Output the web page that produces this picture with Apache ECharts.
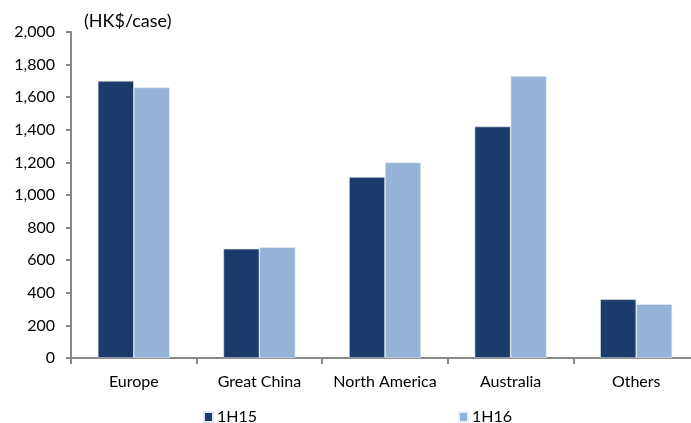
<!DOCTYPE html>
<html>
<head>
<meta charset="utf-8">
<script src="https://cdn.jsdelivr.net/npm/echarts@6/dist/echarts.min.js"></script>
<style>
  html, body { margin: 0; padding: 0; background: #fff; }
  #chart { width: 691px; height: 423px; }
</style>
</head>
<body>
<div id="chart"></div>
<script>
// Average selling price per case, by region
const regions = ['Europe', 'Great China', 'North America', 'Australia', 'Others'];
const seriesNames = ['1H15', '1H16'];
const values1H15 = [1700, 670, 1110, 1420, 360];
const values1H16 = [1660, 680, 1200, 1730, 330];
const unitLabel = '(HK$/case)';

const FONT = 'Lato, "Open Sans", sans-serif';
const AXIS_GREY = '#888888';
const DARK = '#1b3c6a';
const LIGHT = '#95b3d7';

const chart = echarts.init(document.getElementById('chart'));
chart.setOption({
  animation: false,
  textStyle: { fontFamily: FONT },
  title: {
    text: unitLabel,
    left: 79, top: 7,
    textStyle: { fontFamily: FONT, fontSize: 18, fontWeight: 'normal', color: '#000' }
  },
  legend: [
    {
      data: [seriesNames[0]], left: 198, top: 404,
      itemWidth: 9, itemHeight: 10, icon: 'rect',
      textStyle: { fontFamily: FONT, fontSize: 16, color: '#000', padding: [0, 0, 0, -1] }
    },
    {
      data: [seriesNames[1]], left: 453, top: 404,
      itemWidth: 9, itemHeight: 10, icon: 'rect',
      textStyle: { fontFamily: FONT, fontSize: 16, color: '#000', padding: [0, 0, 0, -1] }
    }
  ],
  // The last category band runs slightly past the right edge of the canvas
  grid: { left: 71, top: 32, width: 628, height: 326, containLabel: false, outerBoundsMode: 'none' },
  xAxis: {
    type: 'category',
    data: regions,
    axisLine: { lineStyle: { color: AXIS_GREY, width: 2 } },
    axisTick: { show: true, length: 6, lineStyle: { color: AXIS_GREY, width: 2 } },
    axisLabel: { interval: 0, fontFamily: FONT, fontSize: 16, color: '#000', margin: 16 },
    splitLine: { show: false }
  },
  yAxis: {
    type: 'value',
    min: 0, max: 2000, interval: 200,
    axisLine: { show: true, lineStyle: { color: AXIS_GREY, width: 2 } },
    axisTick: { show: true, length: 5, lineStyle: { color: AXIS_GREY, width: 2 } },
    axisLabel: {
      fontFamily: FONT, fontSize: 16, color: '#000', margin: 16,
      formatter: v => v.toLocaleString('en-US')
    },
    splitLine: { show: false }
  },
  series: [
    {
      name: seriesNames[0], type: 'bar', data: values1H15,
      barGap: '0%', barCategoryGap: '42.7%',
      itemStyle: { color: DARK, borderColor: '#dfe6ef', borderWidth: 0.6 }
    },
    {
      name: seriesNames[1], type: 'bar', data: values1H16,
      barGap: '0%', barCategoryGap: '42.7%',
      itemStyle: { color: LIGHT, borderColor: '#e6eef7', borderWidth: 0.6 }
    }
  ]
});
</script>
</body>
</html>
